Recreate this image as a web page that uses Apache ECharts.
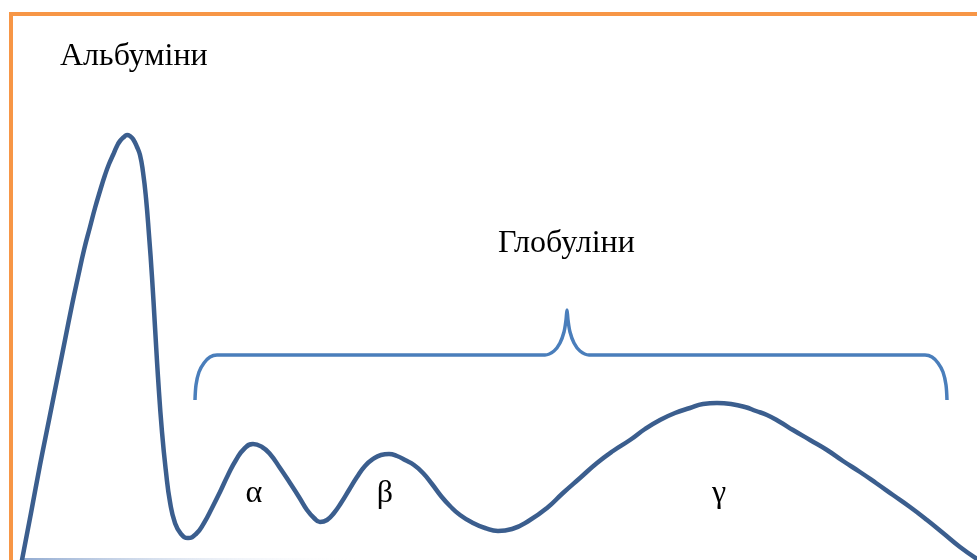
<!DOCTYPE html>
<html lang="uk">
<head>
  <meta charset="utf-8">
  <title>Білкові фракції</title>
  <script src="https://cdn.jsdelivr.net/npm/echarts@6/dist/echarts.min.js"></script>
  <style>
    html, body { margin: 0; padding: 0; background: #fff; }
    #main { width: 977px; height: 560px; }
  </style>
</head>
<body>
<div id="main"></div>
<script type="text/javascript">
// крива електрофореграми (x, висота)
var curveX = [22, 31, 40, 49, 58, 65, 72, 78, 84, 90, 95, 100, 105, 109, 113, 117, 120, 124, 127, 130,
  133, 137, 140, 143, 146, 149, 152, 155, 158, 162, 166, 170, 175, 181, 188, 196, 204, 212, 220, 228,
  236, 244, 253, 262, 270, 280, 290, 299, 307, 314, 320, 327, 334, 341, 349, 357, 365, 373, 381, 389,
  397, 405, 414, 423, 432, 441, 450, 460, 473, 485, 498, 512, 530, 547, 563, 580, 597, 613, 630, 645,
  660, 675, 690, 703, 717, 731, 745, 756, 767, 780, 793, 810, 827, 843, 860, 876, 893, 910, 927, 943,
  960, 977];
var curveY = [0, 47, 95, 140, 185, 220, 255, 283, 310, 333, 352, 369, 385, 396, 405, 414, 419, 423, 425, 424,
  421, 413, 405, 388, 362, 325, 283, 233, 183, 128, 88, 58, 37, 26, 22, 26, 37, 52, 68, 85,
  100, 111, 116, 113, 106, 92, 77, 63, 50, 42, 38, 40, 47, 57, 70, 83, 94, 101, 105, 106,
  104, 100, 95, 87, 76, 64, 54, 45, 37, 32, 29, 31, 40, 52, 67, 82, 97, 109, 120, 131,
  140, 147, 152, 156, 157, 156, 153, 149, 145, 138, 130, 120, 110, 99, 88, 77, 65, 53, 40, 27,
  13, 1];

// фігурна дужка над глобулінами
var braceX = [195, 196, 199, 204, 210, 217, 545, 554, 560, 564, 566, 567, 568, 570, 574, 580, 589, 925, 932, 938, 943, 946, 947];
var braceY = [160, 175, 188, 197, 203, 205, 205, 209, 217, 228, 240, 250, 240, 228, 217, 209, 205, 205, 203, 197, 188, 175, 160];

// підписи: текст, x, y
var labels = [
  ['Альбуміни', 60, 57, 'left'],
  ['Глобуліни', 498, 244, 'left'],
  ['α', 254, 494, 'center'],
  ['β', 385, 494, 'center'],
  ['γ', 719, 494, 'center']
];

var curveData = curveX.map(function (x, i) { return [x, curveY[i]]; });
var braceData = braceX.map(function (x, i) { return [x, braceY[i]]; });

var myChart = echarts.init(document.getElementById('main'));

var option = {
  animation: false,
  grid: { left: 0, right: 0, top: 0, bottom: 0 },
  xAxis: { type: 'value', min: 0, max: 977, show: false },
  yAxis: { type: 'value', min: 0, max: 560, show: false },
  graphic: [
    {
      type: 'rect',
      shape: { x: 11, y: 14, width: 1100, height: 700 },
      style: { fill: 'none', stroke: '#f79646', lineWidth: 4 },
      silent: true
    },
    {
      type: 'line',
      shape: { x1: 20, y1: 559, x2: 360, y2: 559 },
      style: {
        lineWidth: 2,
        stroke: new echarts.graphic.LinearGradient(0, 0, 1, 0, [
          { offset: 0, color: '#8fa9d0' },
          { offset: 1, color: 'rgba(255,255,255,0)' }
        ], false)
      },
      silent: true
    }
  ].concat(labels.map(function (l) {
    return {
      type: 'text',
      x: l[1],
      y: l[2],
      style: {
        text: l[0],
        font: '32px "Liberation Serif", "Times New Roman", serif',
        fill: '#000',
        align: l[3],
        verticalAlign: 'middle'
      },
      silent: true
    };
  })),
  series: [
    {
      type: 'line',
      data: curveData,
      smooth: 0.5,
      symbol: 'none',
      lineStyle: { color: '#3b5e8e', width: 4.5, cap: 'round', join: 'round' },
      silent: true
    },
    {
      type: 'line',
      data: braceData,
      smooth: 0.3,
      symbol: 'none',
      lineStyle: { color: '#4a7ebb', width: 3.5 },
      silent: true
    }
  ]
};

myChart.setOption(option);
</script>
</body>
</html>
